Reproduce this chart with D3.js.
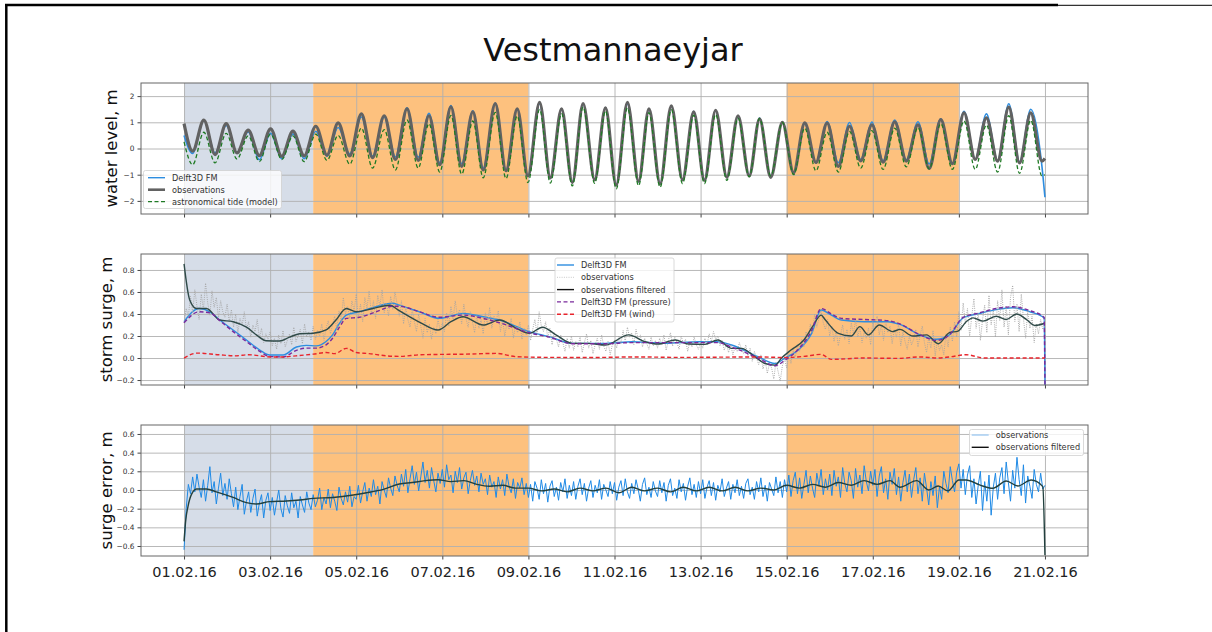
<!DOCTYPE html>
<html>
<head>
<meta charset="utf-8">
<script src="https://cdn.jsdelivr.net/npm/d3@7"></script>
<style>
  body { margin: 0; background: #fff; }
  svg { display: block; font-family: "DejaVu Sans", sans-serif; }
</style>
</head>
<body>
<svg id="chart" width="1212" height="632"></svg>
<script>
// ---- data (times are days since 01.02.16 00:00) ----
const title = "Vestmannaeyjar";

const xTickDates = ["2016-02-01","2016-02-03","2016-02-05","2016-02-07","2016-02-09","2016-02-11",
  "2016-02-13","2016-02-15","2016-02-17","2016-02-19","2016-02-21"];
const levelTicks = [-2, -1, 0, 1, 2];
const surgeTicks = [-0.2, 0, 0.2, 0.4, 0.6, 0.8];
const errorTicks = [-0.6, -0.4, -0.2, 0, 0.2, 0.4, 0.6];

const shadeStart = ["2016-02-01", "2016-02-04", "2016-02-15"];
const shadeEnd   = ["2016-02-04", "2016-02-09", "2016-02-19"];
const shadeKind  = ["calm", "storm", "storm"];

// water level: high / low water times
const levelT = [0.00,0.20,0.46,0.72,0.98,1.23,1.49,1.75,2.01,2.27,2.53,2.79,3.06,3.32,3.58,3.85,4.12,4.38,4.65,4.91,
  5.18,5.44,5.69,5.94,6.20,6.45,6.71,6.95,7.23,7.48,7.74,7.99,8.26,8.51,8.77,9.02,9.27,9.54,9.79,10.04,
  10.30,10.56,10.80,11.06,11.32,11.58,11.84,12.09,12.35,12.61,12.87,13.13,13.37,13.63,13.90,14.16,14.42,14.68,14.94,15.20,
  15.46,15.72,15.98,16.24,16.51,16.78,17.05,17.31,17.58,17.85,18.12,18.38,18.64,18.90,19.16,19.41,19.67,19.93,20.00];
const levelObs = [0.95,-0.10,1.08,-0.23,0.95,-0.17,0.70,-0.27,0.75,-0.30,0.66,-0.28,0.85,-0.25,0.98,-0.28,1.32,-0.35,1.25,-0.42,
  1.51,-0.45,1.25,-0.62,1.59,-0.68,1.40,-0.82,1.71,-0.85,1.51,-1.05,1.76,-1.12,1.51,-1.30,1.71,-1.20,1.55,-1.40,
  1.76,-1.25,1.51,-1.35,1.63,-1.20,1.40,-1.22,1.46,-1.10,1.25,-1.05,1.13,-1.10,1.00,-0.92,0.98,-0.53,0.97,-0.68,
  0.85,-0.47,0.90,-0.52,1.02,-0.48,0.90,-0.76,1.10,-0.58,1.36,-0.42,1.17,-0.48,1.58,-0.55,1.36,-0.48,-0.38];
const levelModel = [0.50,-0.19,1.07,-0.17,0.88,-0.17,0.63,-0.43,0.58,-0.39,0.56,-0.39,0.66,-0.30,0.80,-0.20,1.20,-0.29,1.20,-0.32,
  1.55,-0.33,1.34,-0.54,1.64,-0.58,1.44,-0.75,1.73,-0.83,1.52,-1.06,1.71,-1.13,1.49,-1.30,1.71,-1.20,1.56,-1.40,
  1.70,-1.28,1.51,-1.35,1.62,-1.20,1.42,-1.19,1.45,-1.10,1.25,-1.03,1.16,-1.08,0.99,-0.95,0.95,-0.55,1.03,-0.54,
  0.99,-0.42,1.01,-0.47,1.09,-0.43,1.02,-0.59,1.13,-0.58,1.42,-0.40,1.32,-0.46,1.71,-0.51,1.50,-0.68,-1.86];
const levelTide = [0.25,-0.62,0.62,-0.55,0.58,-0.40,0.48,-0.50,0.55,-0.42,0.48,-0.50,0.55,-0.45,0.50,-0.60,0.78,-0.75,0.72,-0.82,
  1.09,-0.75,0.95,-0.90,1.26,-0.98,1.05,-1.12,1.38,-1.15,1.24,-1.30,1.49,-1.32,1.33,-1.43,1.58,-1.33,1.43,-1.54,
  1.55,-1.42,1.37,-1.48,1.48,-1.34,1.27,-1.34,1.30,-1.22,1.16,-1.08,1.15,-1.04,1.00,-1.00,0.78,-0.85,0.62,-0.90,
  0.65,-0.75,0.68,-0.80,0.78,-0.70,0.80,-0.78,0.95,-0.80,1.05,-0.80,0.90,-0.90,1.25,-0.95,1.08,-1.05,-1.00];

// storm surge
const surgeModelT = [0,0.35,0.6,0.83,1.14,1.45,1.76,1.99,2.3,2.61,2.84,3.07,3.3,3.45,3.61,3.77,4.07,4.46,4.85,5.0,
  5.47,5.93,6.48,6.95,7.33,8.02,8.48,9.02,9.79,10.41,11.18,11.95,12.4,12.72,13.33,13.73,13.96,14.27,14.58,14.8,
  15.04,15.27,15.81,16.35,16.63,17.1,17.48,17.78,18.1,18.48,18.87,19.26,19.65,19.98,20.0];
const surgeModel = [0.33,0.45,0.42,0.345,0.255,0.164,0.073,0.027,0.027,0.1,0.115,0.11,0.15,0.21,0.315,0.39,0.42,0.467,0.497,0.48,
  0.42,0.36,0.406,0.375,0.345,0.24,0.194,0.133,0.133,0.148,0.133,0.148,0.148,0.118,0.012,-0.05,0.0,0.073,0.224,0.436,
  0.39,0.345,0.33,0.33,0.305,0.21,0.17,0.21,0.365,0.405,0.44,0.457,0.42,0.365,-0.245];
const surgePressure = [0.32,0.42,0.41,0.34,0.24,0.15,0.06,0.015,0.01,0.07,0.09,0.09,0.12,0.18,0.28,0.36,0.37,0.42,0.47,0.47,
  0.42,0.37,0.39,0.36,0.32,0.23,0.19,0.13,0.13,0.14,0.14,0.14,0.14,0.1,0.0,-0.07,-0.02,0.08,0.25,0.45,
  0.4,0.36,0.35,0.34,0.31,0.21,0.16,0.21,0.37,0.41,0.45,0.466,0.43,0.37,-0.245];
const surgeWindT = [0,0.3,0.8,1.2,1.5,2.0,2.3,2.6,3.0,3.3,3.5,3.77,4.0,4.3,4.7,5.0,5.5,6.0,6.5,7.26,
  7.72,8.5,9.5,10.5,11.5,12.5,13.3,14.0,14.4,14.8,15.04,15.8,16.6,17.1,17.5,17.78,18.17,18.6,19.3,20.0];
const surgeWind = [0,0.045,0.03,0.02,0.03,0.01,0.01,0.02,0.035,0.05,0.04,0.088,0.05,0.04,0.02,0.015,0.03,0.033,0.035,0.042,
  0.012,0.006,0.005,0.01,0.006,0.008,0.01,0.005,0.015,0.033,-0.012,0.0,-0.003,0.01,0.0,0.01,0.03,0.0,0.0,0.0];
const surgeFiltT = [0,0.13,0.29,0.52,0.83,1.14,1.45,1.68,1.91,2.22,2.45,2.69,3.0,3.3,3.53,3.77,4.0,4.39,4.78,5.0,
  5.5,5.9,6.2,6.48,6.95,7.33,7.72,8.02,8.33,8.64,9.02,9.4,9.79,10.33,10.71,11.02,11.41,11.72,12.1,12.4,
  12.72,12.95,13.26,13.5,13.73,13.88,14.1,14.4,14.6,14.8,14.9,15.2,15.5,15.7,15.9,16.15,16.46,16.63,16.93,17.25,
  17.52,17.78,17.98,18.17,18.33,18.56,18.87,19.1,19.34,19.57,19.76,19.98];
const surgeFilt = [0.855,0.53,0.45,0.45,0.345,0.33,0.28,0.21,0.157,0.155,0.19,0.22,0.225,0.255,0.345,0.45,0.42,0.45,0.48,0.43,
  0.32,0.255,0.33,0.375,0.3,0.345,0.27,0.224,0.28,0.21,0.133,0.133,0.118,0.21,0.148,0.127,0.164,0.127,0.124,0.164,
  0.088,0.088,0.012,-0.05,-0.064,0.0,0.073,0.164,0.285,0.39,0.345,0.224,0.2,0.285,0.21,0.3,0.24,0.26,0.2,0.21,
  0.13,0.23,0.245,0.33,0.365,0.335,0.38,0.35,0.4,0.35,0.296,0.314];

// raw observations, one value every obsStep days (one row per day)
const obsStep = 0.05;
const surgeObs = [
  0.32,0.45,0.38,0.56,0.41,0.62,0.47,0.35,0.58,0.44,0.68,0.50,0.39,0.61,0.46,0.55,0.36,0.52,0.42,0.37,
  0.49,0.33,0.44,0.28,0.40,0.23,0.36,0.30,0.42,0.26,0.33,0.19,0.30,0.24,0.35,0.18,0.27,0.14,0.22,0.17,
  0.24,0.11,0.18,0.08,0.21,0.13,0.25,0.10,0.16,0.22,0.12,0.28,0.15,0.20,0.26,0.13,0.31,0.19,0.24,0.16,
  0.29,0.17,0.25,0.20,0.31,0.16,0.27,0.34,0.22,0.30,0.38,0.26,0.43,0.33,0.55,0.40,0.47,0.36,0.52,0.43,
  0.58,0.37,0.49,0.33,0.55,0.45,0.61,0.40,0.52,0.36,0.57,0.47,0.62,0.41,0.50,0.38,0.56,0.44,0.60,0.49,
  0.38,0.52,0.31,0.46,0.35,0.28,0.44,0.33,0.24,0.40,0.29,0.18,0.36,0.23,0.31,0.17,0.28,0.22,0.35,0.25,
  0.32,0.24,0.41,0.29,0.47,0.35,0.52,0.38,0.44,0.31,0.49,0.36,0.28,0.42,0.33,0.23,0.39,0.27,0.35,0.22,
  0.41,0.30,0.46,0.27,0.38,0.33,0.43,0.24,0.35,0.20,0.31,0.26,0.36,0.18,0.29,0.23,0.33,0.17,0.27,0.21,
  0.30,0.16,0.26,0.35,0.22,0.42,0.29,0.24,0.33,0.18,0.27,0.12,0.23,0.17,0.10,0.21,0.14,0.06,0.18,0.09,
  0.20,0.07,0.15,0.10,0.19,0.05,0.14,0.22,0.09,0.16,0.04,0.12,0.18,0.08,0.21,0.11,0.06,0.15,0.03,0.12,
  0.16,0.09,0.20,0.13,0.25,0.15,0.28,0.19,0.23,0.12,0.26,0.17,0.21,0.10,0.18,0.13,0.08,0.19,0.11,0.16,
  0.09,0.18,0.12,0.21,0.07,0.16,0.23,0.11,0.19,0.14,0.08,0.20,0.13,0.17,0.06,0.15,0.10,0.19,0.12,0.08,
  0.14,0.09,0.18,0.12,0.22,0.15,0.24,0.17,0.20,0.11,0.16,0.07,0.13,0.05,0.12,0.03,0.10,0.06,0.14,0.08,
  0.04,0.12,0.02,0.09,-0.03,0.06,0.00,-0.06,0.03,-0.10,-0.02,-0.14,-0.05,-0.09,-0.19,-0.04,-0.12,-0.21,-0.07,-0.01,
  -0.09,0.04,-0.05,0.08,0.01,0.12,0.06,0.17,0.10,0.24,0.16,0.31,0.22,0.40,0.28,0.36,0.43,0.32,0.26,0.35,
  0.20,0.29,0.15,0.25,0.11,0.21,0.30,0.17,0.26,0.13,0.32,0.22,0.35,0.19,0.28,0.14,0.24,0.18,0.27,0.12,
  0.33,0.25,0.38,0.21,0.30,0.16,0.34,0.23,0.29,0.13,0.26,0.19,0.31,0.11,0.24,0.15,0.08,0.20,0.12,0.17,
  0.26,0.10,0.21,0.29,0.14,0.05,0.19,0.09,0.25,0.02,0.16,0.07,0.12,0.03,0.22,0.10,0.28,0.15,0.33,0.19,
  0.42,0.25,0.50,0.31,0.45,0.20,0.38,0.54,0.27,0.41,0.16,0.35,0.48,0.23,0.57,0.30,0.44,0.19,0.52,0.34,
  0.62,0.28,0.47,0.21,0.55,0.66,0.33,0.49,0.24,0.58,0.36,0.18,0.43,0.27,0.38,0.14,0.31,0.22,0.35,0.26,
  0.30];

// surge error
const errorFiltT = [0,0.04,0.09,0.17,0.29,0.52,0.75,1.14,1.45,1.68,1.99,2.38,2.69,3.0,3.46,3.93,4.24,4.63,5.0,5.3,
  5.6,5.9,6.2,6.5,6.8,7.1,7.4,7.7,8.0,8.3,8.6,8.9,9.2,9.5,9.8,10.1,10.4,10.7,11.0,11.3,
  11.6,11.9,12.2,12.5,12.8,13.1,13.4,13.7,14.0,14.3,14.6,14.9,15.2,15.5,15.8,16.1,16.4,16.63,17.02,17.3,
  17.52,17.75,18.0,18.17,18.48,18.79,19.1,19.37,19.68,19.95,20.0];
const errorFilt = [-0.55,-0.32,-0.18,-0.05,0.01,0.01,-0.02,-0.08,-0.135,-0.15,-0.125,-0.118,-0.107,-0.09,-0.08,-0.054,-0.03,0.007,0.064,0.08,
  0.1,0.11,0.09,0.1,0.06,0.04,0.05,0.02,0.02,-0.01,0.01,-0.02,0.02,-0.01,0.02,-0.03,0.03,-0.01,0.02,-0.02,
  0.03,-0.01,0.03,-0.01,0.03,-0.01,0.02,0.0,0.05,0.02,0.06,0.03,0.08,0.05,0.1,0.06,0.1,0.03,0.1,0.0,
  0.043,-0.01,0.107,0.107,0.054,0.018,0.096,0.043,0.107,0.036,-0.7];
const errorObs = [
  -0.64,-0.20,0.06,-0.04,0.14,-0.02,0.17,0.03,-0.08,0.11,-0.12,0.05,0.25,-0.03,0.09,-0.15,0.02,0.18,-0.06,0.07,
  -0.10,0.12,-0.04,-0.18,0.03,-0.21,-0.07,0.06,-0.26,-0.12,-0.02,-0.24,-0.09,0.01,-0.28,-0.14,-0.05,-0.30,-0.11,-0.03,
  -0.22,-0.08,-0.27,-0.13,0.00,-0.20,-0.29,-0.06,-0.17,-0.25,-0.03,-0.19,-0.12,-0.30,-0.07,-0.16,-0.24,-0.02,-0.14,-0.21,
  -0.05,-0.18,-0.11,0.02,-0.21,-0.08,-0.15,0.01,-0.19,-0.04,-0.12,-0.22,0.03,-0.09,-0.16,-0.02,-0.13,0.04,-0.18,-0.07,
  -0.10,0.05,-0.14,-0.02,0.08,-0.12,0.02,-0.07,0.11,-0.05,0.04,-0.15,0.09,0.00,-0.08,0.13,0.02,-0.06,0.15,0.05,
  -0.02,0.17,0.04,0.22,-0.03,0.12,0.26,0.06,0.19,-0.01,0.14,0.30,0.08,0.21,0.02,0.24,0.10,-0.02,0.18,0.07,
  0.22,0.03,0.27,0.11,0.16,-0.03,0.20,0.08,0.24,0.01,0.13,0.19,-0.04,0.10,0.21,0.05,0.15,-0.02,0.18,0.06,
  0.12,-0.05,0.16,0.03,0.09,-0.08,0.14,0.01,0.11,-0.06,0.17,0.04,-0.03,0.12,-0.09,0.08,0.02,0.13,-0.05,0.07,
  -0.08,0.06,-0.12,0.09,0.02,-0.10,0.11,-0.04,0.07,-0.13,0.04,0.10,-0.07,0.03,-0.11,0.08,-0.02,0.12,-0.09,0.05,
  -0.06,0.09,-0.10,0.04,0.12,-0.05,0.07,-0.12,0.02,0.10,-0.08,0.05,-0.03,0.11,-0.10,0.06,0.00,-0.07,0.09,-0.04,
  0.08,-0.11,0.03,0.10,-0.06,0.12,-0.02,-0.09,0.07,-0.04,0.11,0.01,-0.12,0.06,0.13,-0.05,0.03,-0.08,0.09,-0.01,
  -0.07,0.10,-0.03,0.08,-0.12,0.05,0.12,-0.06,0.02,-0.09,0.11,-0.02,0.07,-0.11,0.04,0.13,-0.05,0.06,-0.08,0.09,
  -0.04,0.11,-0.09,0.03,0.10,-0.06,0.08,-0.11,0.05,-0.02,0.12,-0.07,0.02,0.09,-0.10,0.06,-0.03,0.11,-0.06,0.04,
  -0.09,0.07,0.12,-0.05,0.03,-0.10,0.09,-0.02,0.13,-0.07,0.05,-0.12,0.08,0.01,-0.06,0.14,-0.03,0.09,-0.08,0.11,
  -0.02,0.16,-0.07,0.10,0.19,-0.04,0.13,-0.09,0.06,0.21,-0.03,0.15,0.02,-0.08,0.18,0.05,0.22,-0.05,0.12,0.00,
  0.17,-0.06,0.21,0.04,0.14,-0.08,0.24,0.07,-0.02,0.19,0.10,-0.09,0.23,0.03,0.16,-0.04,0.26,0.09,-0.01,0.20,
  0.05,0.22,-0.07,0.15,0.25,-0.03,0.12,-0.10,0.19,0.06,0.23,-0.05,0.14,-0.12,0.08,0.21,-0.02,0.17,-0.08,0.11,
  0.24,-0.04,0.13,-0.12,0.18,0.02,-0.16,0.09,-0.06,0.15,-0.19,0.04,-0.10,0.20,0.07,-0.03,0.25,0.10,-0.02,0.19,
  0.28,0.02,0.22,-0.05,0.16,0.26,-0.08,0.12,-0.15,0.05,0.20,-0.22,0.09,-0.12,0.16,-0.27,0.03,0.18,-0.10,0.13,
  0.24,-0.04,0.30,0.08,-0.12,0.21,0.02,0.35,0.11,-0.06,0.27,-0.14,0.15,0.04,-0.09,0.22,0.06,-0.02,0.18,0.01,
  0.05];

// ---- drawing ----
const t0 = Date.UTC(2016, 1, 1);
const day = d => new Date(t0 + d * 864e5);
const pairs = (ts, vs) => ts.map((t, i) => [day(t), vs[i]]);
const sampled = vs => vs.map((v, i) => [day(i * obsStep), v]);

const X0 = 141, X1 = 1088;
const svg = d3.select("#chart");
const x = d3.scaleUtc().domain([day(-1), day(21)]).range([X0, X1]);
const dateFmt = d3.utcFormat("%d.%m.%y");
const shadeColor = { calm: "#d6dde8", storm: "#fdc17e" };

// figure frame
svg.append("line").attr("x1", 5).attr("x2", 1058).attr("y1", 5).attr("y2", 5)
  .attr("stroke", "#000").attr("stroke-width", 2.5);
svg.append("line").attr("x1", 1058).attr("x2", 1212).attr("y1", 5.3).attr("y2", 5.3)
  .attr("stroke", "#333").attr("stroke-width", 1.2);
svg.append("line").attr("x1", 6.3).attr("x2", 6.3).attr("y1", 4).attr("y2", 632)
  .attr("stroke", "#000").attr("stroke-width", 2.5);

svg.append("text").attr("x", 613).attr("y", 61).attr("text-anchor", "middle")
  .attr("font-size", 32).attr("fill", "#111").text(title);

function panel(p) {
  const y = d3.scaleLinear().domain(p.domain).range([p.bottom, p.top]);
  const g = svg.append("g");
  const clipId = "clip-" + p.id;
  svg.append("clipPath").attr("id", clipId).append("rect")
    .attr("x", X0).attr("y", p.top).attr("width", X1 - X0).attr("height", p.bottom - p.top);
  const inner = g.append("g").attr("clip-path", `url(#${clipId})`);

  inner.selectAll("rect.shade").data(shadeStart).join("rect").attr("class", "shade")
    .attr("x", d => x(new Date(d)))
    .attr("width", (d, i) => x(new Date(shadeEnd[i])) - x(new Date(d)))
    .attr("y", p.top).attr("height", p.bottom - p.top)
    .attr("fill", (d, i) => shadeColor[shadeKind[i]]);

  // grid
  inner.append("g").attr("transform", `translate(${X0},0)`)
    .call(d3.axisLeft(y).tickValues(p.ticks).tickSize(-(X1 - X0)).tickFormat(""))
    .call(a => a.select(".domain").remove())
    .selectAll("line").attr("stroke", "#b0b0b0").attr("stroke-width", 0.9);
  inner.append("g").attr("transform", `translate(0,${p.bottom})`)
    .call(d3.axisBottom(x).tickValues(xTickDates.map(d => new Date(d))).tickSize(-(p.bottom - p.top)).tickFormat(""))
    .call(a => a.select(".domain").remove())
    .selectAll("line").attr("stroke", "#b0b0b0").attr("stroke-width", 0.9);

  // y axis
  const ya = g.append("g").attr("transform", `translate(${X0},0)`)
    .call(d3.axisLeft(y).tickValues(p.ticks).tickSize(3.5).tickPadding(3).tickFormat(p.fmt));
  ya.select(".domain").remove();
  ya.selectAll("line").attr("stroke", "#444");
  ya.selectAll("text").attr("font-size", 7.4).attr("fill", "#333").attr("font-family", "DejaVu Sans");

  // x axis
  const xa = g.append("g").attr("transform", `translate(0,${p.bottom})`)
    .call(d3.axisBottom(x).tickValues(xTickDates.map(d => new Date(d))).tickSize(3.5).tickPadding(7)
      .tickFormat(p.xLabels ? dateFmt : ""));
  xa.select(".domain").remove();
  xa.selectAll("line").attr("stroke", "#444");
  xa.selectAll("text").attr("font-size", 14.5).attr("fill", "#222").attr("font-family", "DejaVu Sans");

  g.append("text").attr("transform", `translate(${p.labelX},${(p.top + p.bottom) / 2}) rotate(-90)`)
    .attr("text-anchor", "middle").attr("font-size", 16.5).attr("fill", "#111").text(p.label);

  return { y, inner, g, p };
}

function addLine(P, data, style) {
  const line = d3.line().x(d => x(d[0])).y(d => P.y(d[1])).curve(style.curve || d3.curveLinear);
  P.inner.append("path").datum(data).attr("d", line).attr("fill", "none")
    .attr("stroke", style.color).attr("stroke-width", style.width)
    .attr("stroke-dasharray", style.dash || null).attr("stroke-linejoin", "round");
}

function frame(P) {
  P.g.append("rect").attr("x", X0).attr("y", P.p.top).attr("width", X1 - X0).attr("height", P.p.bottom - P.p.top)
    .attr("fill", "none").attr("stroke", "#666").attr("stroke-width", 1);
}

function legend(P, box, items) {
  const lg = P.g.append("g");
  lg.append("rect").attr("x", box.x).attr("y", box.y).attr("width", box.w).attr("height", box.h)
    .attr("rx", 2).attr("fill", "#fff").attr("fill-opacity", 0.8).attr("stroke", "#d0d0d0").attr("stroke-width", 0.8);
  items.forEach((it, i) => {
    const yy = box.y + box.first + i * box.step;
    lg.append("line").attr("x1", box.x + box.pad).attr("x2", box.x + box.pad + 17).attr("y1", yy).attr("y2", yy)
      .attr("stroke", it.color).attr("stroke-width", it.width).attr("stroke-dasharray", it.dash || null);
    lg.append("text").attr("x", box.x + box.pad + 24).attr("y", yy + 3)
      .attr("font-size", 8.2).attr("fill", "#333").text(it.label);
  });
}

// panel 1: water level
const P1 = panel({ id: "p1", top: 83, bottom: 214, domain: [-2.5, 2.5], ticks: levelTicks,
  fmt: d3.format("d"), label: "water level, m", labelX: 117 });
const sModel1 = { color: "#2d8de0", width: 1.6, curve: d3.curveMonotoneX };
const sObs1 = { color: "#626262", width: 3.2, curve: d3.curveMonotoneX };
const sTide = { color: "#1f7a24", width: 1.3, dash: "4,2.5", curve: d3.curveMonotoneX };
addLine(P1, pairs(levelT, levelModel), sModel1);
addLine(P1, pairs(levelT, levelObs), sObs1);
addLine(P1, pairs(levelT, levelTide), sTide);
frame(P1);
legend(P1, { x: 143.5, y: 170.5, w: 138, h: 38, first: 7.2, step: 12, pad: 4.5 }, [
  { label: "Delft3D FM", color: sModel1.color, width: 1.4 },
  { label: "observations", color: sObs1.color, width: 2.6 },
  { label: "astronomical tide (model)", color: sTide.color, width: 1.3, dash: sTide.dash }
]);

// panel 2: storm surge
const P2 = panel({ id: "p2", top: 254, bottom: 385, domain: [-0.245, 0.945], ticks: surgeTicks,
  fmt: d3.format(".1f"), label: "storm surge, m", labelX: 112 });
const sModel2 = { color: "#2d8de0", width: 1.4, curve: d3.curveMonotoneX };
const sObs2 = { color: "#a4a4a4", width: 0.9, dash: "1,1.2" };
const sFilt2 = { color: "#2f4a48", width: 1.4, curve: d3.curveMonotoneX };
const sPress = { color: "#7a2a9c", width: 1.4, dash: "4,2.5", curve: d3.curveMonotoneX };
const sWind = { color: "#e8242c", width: 1.4, dash: "4,2.5", curve: d3.curveMonotoneX };
addLine(P2, pairs(surgeModelT, surgeModel), sModel2);
addLine(P2, sampled(surgeObs), sObs2);
addLine(P2, pairs(surgeFiltT, surgeFilt), sFilt2);
addLine(P2, pairs(surgeModelT, surgePressure), sPress);
addLine(P2, pairs(surgeWindT, surgeWind), sWind);
frame(P2);
legend(P2, { x: 555, y: 258, w: 119, h: 64, first: 7, step: 12.3, pad: 2 }, [
  { label: "Delft3D FM", color: sModel2.color, width: 1.4 },
  { label: "observations", color: "#c8c8c8", width: 1, dash: "1,1.3" },
  { label: "observations filtered", color: "#111", width: 1.4 },
  { label: "Delft3D FM (pressure)", color: sPress.color, width: 1.4, dash: sPress.dash },
  { label: "Delft3D FM (wind)", color: sWind.color, width: 1.4, dash: sWind.dash }
]);

// panel 3: surge error
const P3 = panel({ id: "p3", top: 425, bottom: 556, domain: [-0.707, 0.696], ticks: errorTicks,
  fmt: d3.format(".1f"), label: "surge error, m", labelX: 112, xLabels: true });
const sObs3 = { color: "#1f8ae6", width: 1 };
const sFilt3 = { color: "#22403e", width: 1.4, curve: d3.curveMonotoneX };
addLine(P3, sampled(errorObs), sObs3);
addLine(P3, pairs(errorFiltT, errorFilt), sFilt3);
frame(P3);
legend(P3, { x: 969.5, y: 429.5, w: 114, h: 26, first: 5.5, step: 12.3, pad: 2.2 }, [
  { label: "observations", color: "#7fb8ee", width: 1 },
  { label: "observations filtered", color: "#111", width: 1.4 }
]);
</script>
</body>
</html>
